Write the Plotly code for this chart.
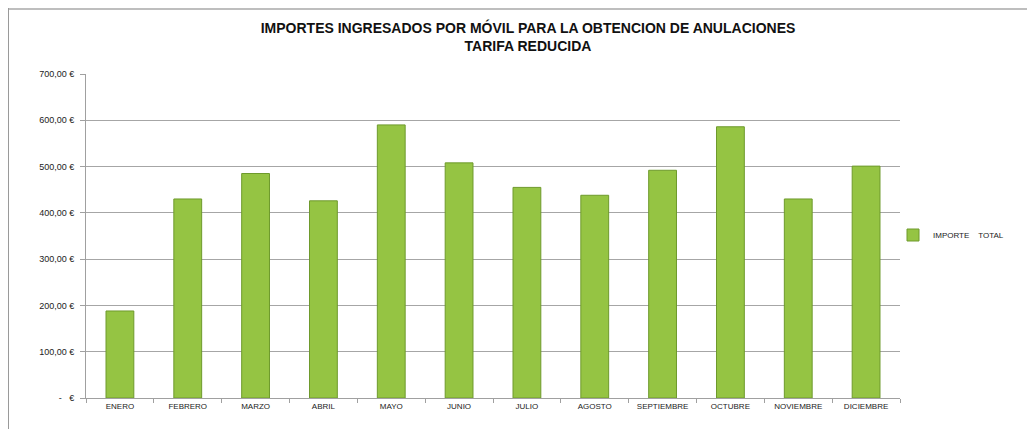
import plotly.graph_objects as go

months = ["ENERO", "FEBRERO", "MARZO", "ABRIL", "MAYO", "JUNIO", "JULIO",
          "AGOSTO", "SEPTIEMBRE", "OCTUBRE", "NOVIEMBRE", "DICIEMBRE"]
importe_total = [188, 430, 485, 426, 590, 508, 455, 438, 492, 586, 430, 501]
series_name = "IMPORTE\u00a0\u00a0\u00a0\u00a0TOTAL"
ytick_vals = [0, 100, 200, 300, 400, 500, 600, 700]
ytick_text = ["-\u00a0\u00a0\u00a0€", "100,00 €", "200,00 €", "300,00 €", "400,00 €",
              "500,00 €", "600,00 €", "700,00 €"]

# page body has an 8px margin; figure is placed at (8, 8)
OFF = 8
W, H = 1035 - 2 * OFF, 437 - 2 * OFF
L = 86 - OFF
T = 74 - OFF
R = W - (900 - OFF)
B = H - (398 - OFF)
pw, ph = W - L - R, H - T - B


def px_x(p):
    return (p - OFF - L) / pw


def px_y(p):
    return (H - B - (p - OFF)) / ph


fig = go.Figure()
fig.add_trace(go.Bar(
    x=months, y=importe_total, name=series_name,
    marker=dict(color="#95C443", line=dict(color="#6E9A2C", width=1)),
    showlegend=True,
))

font = "Liberation Sans, Arial, sans-serif"
fig.update_layout(
    width=W, height=H,
    margin=dict(l=L, r=R, t=T, b=B, autoexpand=False),
    paper_bgcolor="white", plot_bgcolor="white",
    bargap=0.59,
    title=dict(
        text="IMPORTES INGRESADOS POR MÓVIL PARA LA OBTENCION DE ANULACIONES<br>TARIFA REDUCIDA",
        x=(528 - OFF) / W, xanchor="center", y=1 - (33 - OFF) / H, yanchor="top",
        font=dict(family=font, size=14, color="#111111", weight="bold"),
    ),
    xaxis=dict(
        type="category", showgrid=False, showline=True, linecolor="#A0A0A0", linewidth=1,
        ticks="outside", tickson="boundaries", ticklen=4, tickcolor="#A0A0A0",
        tickfont=dict(family=font, size=8, color="#222222"),
    ),
    yaxis=dict(
        range=[0, 700], tickvals=ytick_vals, ticktext=ytick_text,
        showgrid=True, gridcolor="#A6A6A6", gridwidth=1,
        showline=True, linecolor="#A0A0A0", linewidth=1,
        ticks="outside", ticklen=5, tickcolor="#A0A0A0",
        ticklabelstandoff=4,
        tickfont=dict(family=font, size=9, color="#222222"),
        zeroline=False,
    ),
    legend=dict(
        x=px_x(893), y=px_y(235), xanchor="left", yanchor="middle",
        font=dict(family=font, size=8, color="#222222"),
        bgcolor="rgba(0,0,0,0)",
    ),
    shapes=[
        dict(type="line", xref="paper", yref="paper",
             x0=px_x(8), x1=px_x(1040), y0=px_y(9), y1=px_y(9),
             line=dict(color="#BEBEBE", width=2)),
        dict(type="line", xref="paper", yref="paper",
             x0=px_x(8.5), x1=px_x(8.5), y0=px_y(8), y1=px_y(445),
             line=dict(color="#9A9A9A", width=1)),
    ],
)

fig.write_html("out.html")
